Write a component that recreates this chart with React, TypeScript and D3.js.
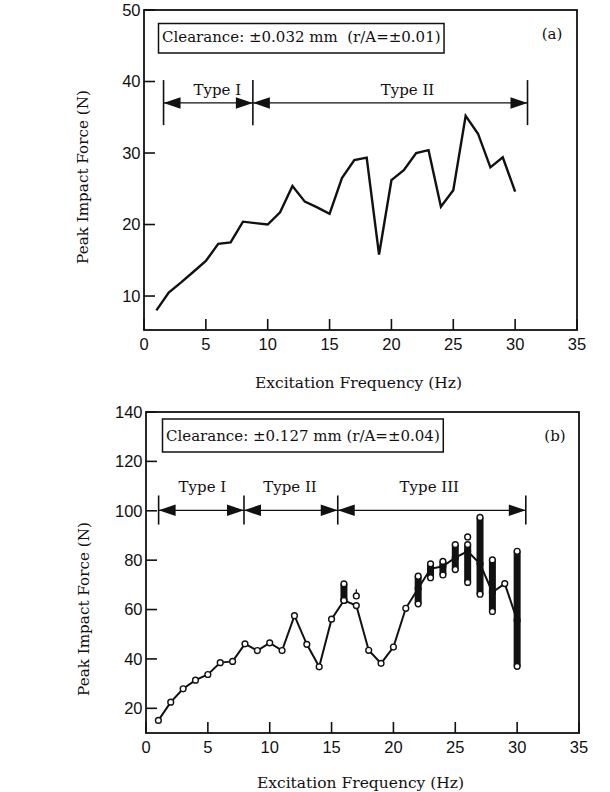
import React, { useEffect, useRef } from 'react';
import * as d3 from 'd3';

// panel (a): clearance ±0.032 mm
const freqA = [1, 2, 3, 4, 5, 6, 7, 8, 9, 10, 11, 12, 13, 14, 15, 16, 17, 18, 19, 20, 21, 22, 23, 24, 25, 26, 27, 28, 29, 30];
const forceA = [8.0, 10.5, 11.9, 13.4, 14.9, 17.3, 17.5, 20.4, 20.2, 20.0, 21.7, 25.4, 23.2, 22.4, 21.5, 26.5, 29.0, 29.35, 15.8, 26.2, 27.6, 30.0, 30.4, 22.5, 24.8, 35.2, 32.7, 28.0, 29.4, 24.6];

// panel (b): clearance ±0.127 mm
const freqB = [1, 2, 3, 4, 5, 6, 7, 8, 9, 10, 11, 12, 13, 14, 15, 16, 17, 18, 19, 20, 21, 22, 23, 24, 25, 26, 27, 28, 29, 30];
const forceB = [15.1, 22.5, 27.9, 31.4, 33.7, 38.5, 39.0, 46.1, 43.4, 46.5, 43.4, 57.5, 45.9, 36.8, 56.1, 63.7, 61.6, 43.5, 38.2, 44.8, 60.5, 68.5, 76.5, 77.5, 81.0, 83.6, 78.5, 67.0, 70.5, 55.6];

// spread of repeated impact peaks at a single frequency
const spreadFreqB = [16, 22, 23, 24, 25, 26, 27, 28, 30];
const spreadLowB = [63.7, 62.3, 72.9, 74.0, 76.2, 71.0, 66.2, 59.2, 37.0];
const spreadHighB = [70.4, 73.5, 78.5, 79.5, 86.3, 86.3, 97.3, 80.1, 83.6];

// isolated extra peaks
const extraFreqB = [17, 26];
const extraForceB = [65.5, 89.4];
const extraTopB = [68.2, 89.4];

const xTicks = [0, 5, 10, 15, 20, 25, 30, 35];
const yTicksA = [10, 20, 30, 40, 50];
const yTicksB = [20, 40, 60, 80, 100, 120, 140];

// response regimes (frequency boundaries)
const regimeEdgesA = [1.58, 8.8, 31];
const regimeNamesA = ['Type I', 'Type II'];
const regimeEdgesB = [1.02, 7.92, 15.5, 30.7];
const regimeNamesB = ['Type I', 'Type II', 'Type III'];

const SERIF = '"DejaVu Serif", serif';
const SANS = '"Liberation Sans", Arial, sans-serif';

const panels = [
  {
    left: 144, right: 577, top: 10, bottom: 330,
    yDomain: [5.25, 50], yTicks: yTicksA,
    freq: freqA, force: forceA, markers: false,
    edges: regimeEdgesA, names: regimeNamesA, namePos: [5.93, 21.3],
    arrowY: 37.0, barLow: 33.9, barHigh: 40.2, nameY: 38.1,
    caption: 'Clearance: ±0.032 mm\u00a0\u00a0(r/A=±0.01)', captionX: 162, captionY: 42, boxTop: 23.5, boxBottom: 53,
    tag: '(a)', tagX: 552, tagY: 39,
    yTitleX: 88, yTitleY: 177, xTitleY: 388,
  },
  {
    left: 146, right: 579, top: 412, bottom: 733,
    yDomain: [10, 140], yTicks: yTicksB,
    freq: freqB, force: forceB, markers: true,
    edges: regimeEdgesB, names: regimeNamesB, namePos: [4.56, 11.64, 22.9],
    arrowY: 100.2, barLow: 94.4, barHigh: 106.2, nameY: 107.5,
    caption: 'Clearance: ±0.127 mm (r/A=±0.04)', captionX: 166, captionY: 441, boxTop: 419, boxBottom: 452,
    tag: '(b)', tagX: 555, tagY: 441,
    yTitleX: 89, yTitleY: 609, xTitleY: 788,
  },
];

const App = () => {
  const ref = useRef<SVGSVGElement>(null);

  useEffect(() => {
    const svg = d3.select(ref.current);
    svg.selectAll('*').remove();

    panels.forEach((p) => {
      const g = svg.append('g');
      const x = d3.scaleLinear().domain([0, 35]).range([p.left, p.right]);
      const y = d3.scaleLinear().domain(p.yDomain).range([p.bottom, p.top]);

      // frame
      g.append('rect')
        .attr('x', p.left).attr('y', p.top)
        .attr('width', p.right - p.left).attr('height', p.bottom - p.top)
        .attr('fill', 'none').attr('stroke', '#111').attr('stroke-width', 1.8);

      // ticks point inward
      g.selectAll('.xt').data(xTicks).enter().append('line')
        .attr('x1', (d) => x(d)).attr('x2', (d) => x(d))
        .attr('y1', p.bottom).attr('y2', p.bottom - 11)
        .attr('stroke', '#111').attr('stroke-width', 1.6);
      g.selectAll('.xl').data(xTicks).enter().append('text')
        .attr('x', (d) => x(d)).attr('y', p.bottom + 20)
        .attr('text-anchor', 'middle')
        .attr('font-family', SANS).attr('font-size', 16.5).attr('fill', '#111')
        .text((d) => d);

      g.selectAll('.yt').data(p.yTicks).enter().append('line')
        .attr('x1', p.left).attr('x2', p.left + 11)
        .attr('y1', (d) => y(d)).attr('y2', (d) => y(d))
        .attr('stroke', '#111').attr('stroke-width', 1.6);
      g.selectAll('.yl').data(p.yTicks).enter().append('text')
        .attr('x', p.left - 3.5).attr('y', (d) => y(d)).attr('dy', '0.36em')
        .attr('text-anchor', 'end')
        .attr('font-family', SANS).attr('font-size', 16.5).attr('fill', '#111')
        .text((d) => d);

      // axis titles
      g.append('text')
        .attr('transform', `translate(${p.yTitleX},${p.yTitleY}) rotate(-90)`)
        .attr('text-anchor', 'middle')
        .attr('font-family', SERIF).attr('font-size', 15.2).attr('fill', '#111')
        .text('Peak Impact Force (N)');
      g.append('text')
        .attr('x', (p.left + p.right) / 2 - 2).attr('y', p.xTitleY)
        .attr('text-anchor', 'middle')
        .attr('font-family', SERIF).attr('font-size', 15.5).attr('fill', '#111')
        .text('Excitation Frequency (Hz)');

      // caption box sized from its text
      const cap = g.append('text')
        .attr('x', p.captionX).attr('y', p.captionY)
        .attr('font-family', SERIF).attr('font-size', 15).attr('fill', '#111')
        .text(p.caption);
      const w = (cap.node() as SVGTextElement).getComputedTextLength();
      g.append('rect')
        .attr('x', p.captionX - 3.5).attr('y', p.boxTop)
        .attr('width', w + 7).attr('height', p.boxBottom - p.boxTop)
        .attr('fill', 'none').attr('stroke', '#111').attr('stroke-width', 1.5);
      g.append('text')
        .attr('x', p.tagX).attr('y', p.tagY).attr('text-anchor', 'middle')
        .attr('font-family', SERIF).attr('font-size', 15).attr('fill', '#111')
        .text(p.tag);

      // regime arrows
      const ay = y(p.arrowY);
      p.edges.forEach((e) => {
        g.append('line')
          .attr('x1', x(e)).attr('x2', x(e))
          .attr('y1', y(p.barLow)).attr('y2', y(p.barHigh))
          .attr('stroke', '#111').attr('stroke-width', 1.6);
      });
      p.names.forEach((name, i) => {
        const x0 = x(p.edges[i]);
        const x1 = x(p.edges[i + 1]);
        g.append('line')
          .attr('x1', x0).attr('x2', x1).attr('y1', ay).attr('y2', ay)
          .attr('stroke', '#111').attr('stroke-width', 1.3);
        g.append('path')
          .attr('d', `M${x0},${ay} L${x0 + 17},${ay - 5.8} L${x0 + 17},${ay + 5.8} Z`)
          .attr('fill', '#111');
        g.append('path')
          .attr('d', `M${x1},${ay} L${x1 - 17},${ay - 5.8} L${x1 - 17},${ay + 5.8} Z`)
          .attr('fill', '#111');
        g.append('text')
          .attr('x', x(p.namePos[i])).attr('y', y(p.nameY))
          .attr('text-anchor', 'middle')
          .attr('font-family', SERIF).attr('font-size', 15).attr('fill', '#111')
          .text(name);
      });

      // response curve
      const pts = p.freq.map((f, i) => [f, p.force[i]] as [number, number]);
      const line = d3.line<[number, number]>().x((d) => x(d[0])).y((d) => y(d[1]));
      g.append('path')
        .attr('d', line(pts))
        .attr('fill', 'none').attr('stroke', '#111')
        .attr('stroke-width', p.markers ? 2 : 2.4).attr('stroke-linejoin', 'miter');

      if (p.markers) {
        const circle = (f: number, v: number) =>
          g.append('circle')
            .attr('cx', x(f)).attr('cy', y(v)).attr('r', 2.9)
            .attr('fill', '#fff').attr('stroke', '#111').attr('stroke-width', 1.4);

        pts.forEach((d) => circle(d[0], d[1]));
        extraFreqB.forEach((f, i) => {
          g.append('line')
            .attr('x1', x(f)).attr('x2', x(f))
            .attr('y1', y(extraForceB[i])).attr('y2', y(extraTopB[i]))
            .attr('stroke', '#111').attr('stroke-width', 1.3);
          circle(f, extraForceB[i]);
        });

        spreadFreqB.forEach((f, i) => {
          g.append('line')
            .attr('x1', x(f)).attr('x2', x(f))
            .attr('y1', y(spreadLowB[i])).attr('y2', y(spreadHighB[i]))
            .attr('stroke', '#111').attr('stroke-width', 7);
          circle(f, spreadLowB[i]);
          circle(f, spreadHighB[i]);
        });
      }
    });
  }, []);

  return (
    <svg ref={ref} width={610} height={792}
      style={{ position: 'absolute', left: 0, top: 0, background: '#fff' }} />
  );
};

export default App;
